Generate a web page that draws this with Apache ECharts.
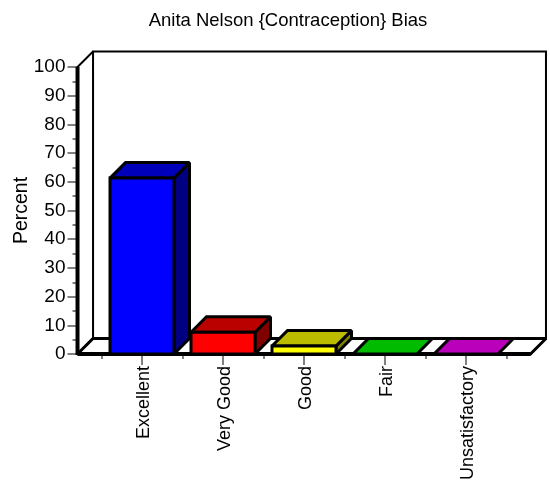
<!DOCTYPE html>
<html><head><meta charset="utf-8">
<style>html,body{margin:0;padding:0;background:#fff}#c{width:550px;height:480px}</style>
<script src="https://cdn.jsdelivr.net/npm/echarts@6/dist/echarts.min.js"></script>
</head><body><div id="c"></div>
<script>
const categories = ["Excellent", "Very Good", "Good", "Fair", "Unsatisfactory"];
const percents = [61.3, 7.6, 2.8, 0, 0];
const frontColors = ["#0000ff", "#ff0000", "#ffff00", "#00ff00", "#ff00ff"];
const topColors = ["#0000bb", "#bb0000", "#bbbb00", "#00bb00", "#bb00bb"];
const sideColors = ["#000080", "#800000", "#808000", "#008000", "#800080"];
const titleText = "Anita Nelson {Contraception} Bias";
const yName = "Percent";
const DEPTH = 15.5, BAR_RATIO = 0.79, SIDE_PAD = 0.296;
const FONT = '"Liberation Sans", Arial, sans-serif';
const chart = echarts.init(document.getElementById('c'), null, {renderer: 'canvas'});

const blk = w => ({stroke: '#000', lineWidth: w, lineJoin: 'miter', miterLimit: 2});
function poly(points, fill, w) {
  return {type: 'polygon', shape: {points}, style: Object.assign({fill}, blk(w))};
}
function line(x1, y1, x2, y2, w) {
  return {type: 'line', shape: {x1, y1, x2, y2}, style: blk(w)};
}
function renderFrame(params, api) {
  const band = api.size([1, 0])[0];
  const c0 = api.coord([0, 0]), cN = api.coord([categories.length - 1, 0]), t = api.coord([0, 100]);
  const L = c0[0] - band * (0.5 + SIDE_PAD), R = cN[0] + band * (0.5 + SIDE_PAD);
  const B = c0[1], T = t[1], d = DEPTH;
  return {type: 'group', children: [
    poly([[L + d, T - d], [R + d, T - d], [R + d, B - d], [L + d, B - d]], '#fff', 2),
    poly([[L, T], [L + d, T - d], [L + d, B - d], [L, B]], '#fff', 2),
    poly([[L, B], [L + d, B - d], [R + d, B - d], [R, B]], '#fff', 3)
  ]};
}
function renderFrameFront(params, api) {
  const band = api.size([1, 0])[0];
  const c0 = api.coord([0, 0]), cN = api.coord([categories.length - 1, 0]), t = api.coord([0, 100]);
  const L = c0[0] - band * (0.5 + SIDE_PAD), R = cN[0] + band * (0.5 + SIDE_PAD);
  return {type: 'group', children: [
    line(L, t[1], L, c0[1] + 1, 4),
    line(L, c0[1], R, c0[1], 4)
  ]};
}
function renderBar(params, api) {
  const i = api.value(0), v = api.value(1);
  const band = api.size([1, 0])[0], w = band * BAR_RATIO;
  const p0 = api.coord([i, 0]), p1 = api.coord([i, v]);
  const x0 = p0[0] - w / 2, x1 = p0[0] + w / 2, yb = p0[1], yt = p1[1], d = DEPTH;
  const children = [];
  if (v > 0) children.push(poly([[x1, yt], [x1 + d, yt - d], [x1 + d, yb - d], [x1, yb]], sideColors[i], 3));
  children.push(poly([[x0, yt], [x0 + d, yt - d], [x1 + d, yt - d], [x1, yt]], topColors[i], 3));
  if (v > 0) children.push(poly([[x0, yt], [x1, yt], [x1, yb], [x0, yb]], frontColors[i], 3));
  return {type: 'group', children};
}
const frameData = [[0, 0]];
const barData = percents.map((v, i) => [i, v]);
const tickGray = '#808080';
chart.setOption({
  animation: false,
  backgroundColor: '#fff',
  textStyle: {fontFamily: FONT},
  title: {text: titleText, left: 283, top: 6, textAlign: 'center',
    textStyle: {fontFamily: FONT, fontSize: 18.5, fontWeight: 'normal', color: '#000'}},
  grid: {left: 101.5, width: 405, top: 67, height: 287, containLabel: false, outerBoundsMode: 'none'},
  xAxis: [
    {type: 'category', data: categories, boundaryGap: true, position: 'bottom',
      axisLine: {show: false},
      axisTick: {show: true, alignWithLabel: true, length: 11, lineStyle: {color: tickGray, width: 2}},
      axisLabel: {rotate: 90, interval: 0, margin: 12, fontSize: 18, color: '#000', fontFamily: FONT, verticalAlign: 'top', lineHeight: 4},
      splitLine: {show: false}},
    {type: 'category', data: categories, boundaryGap: true, position: 'bottom',
      axisLine: {show: false},
      axisTick: {show: true, alignWithLabel: false, interval: 0, length: 5, lineStyle: {color: tickGray, width: 2}},
      axisLabel: {show: false}, splitLine: {show: false}}
  ],
  yAxis: {type: 'value', min: 0, max: 100, interval: 10, position: 'left', offset: 24,
    name: yName, nameLocation: 'middle', nameGap: 46, nameRotate: 90, nameMoveOverlap: false,
    nameTextStyle: {fontSize: 19.5, color: '#000', fontFamily: FONT},
    axisLine: {show: false},
    axisTick: {show: true, length: 10, lineStyle: {color: tickGray, width: 2}},
    minorTick: {show: true, splitNumber: 2, length: 5, lineStyle: {color: tickGray, width: 2}},
    axisLabel: {fontSize: 19, color: '#000', margin: 12, fontFamily: FONT},
    splitLine: {show: false}, minorSplitLine: {show: false}},
  series: [
    {type: 'custom', renderItem: renderFrame, data: frameData, clip: false, silent: true, z: 1,
      encode: {x: 0, y: 1}},
    {type: 'custom', renderItem: renderBar, data: barData, clip: false, silent: true, z: 3,
      encode: {x: 0, y: 1}},
    {type: 'custom', renderItem: renderFrameFront, data: frameData, clip: false, silent: true, z: 2,
      encode: {x: 0, y: 1}}
  ]
});
</script></body></html>
